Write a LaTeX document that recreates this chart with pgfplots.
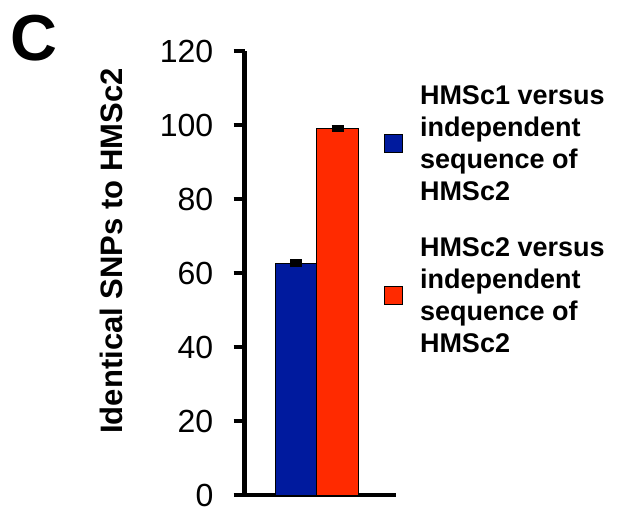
\documentclass[border=0pt]{standalone}
\usepackage{fontspec}
\setmainfont{Liberation Sans}
\usepackage{pgfplots}
\pgfplotsset{compat=1.18}
\definecolor{barblue}{RGB}{0,26,158}
\definecolor{barred}{RGB}{255,42,0}
\pgfplotsset{sqlegend/.style={legend image code/.code={\draw[##1,line width=0.8pt] (0pt,-9pt) rectangle (18pt,9pt);}}}
\begin{document}
\begin{tikzpicture}
\useasboundingbox (0pt,0pt) rectangle (628pt,-528pt);
\node[anchor=base west, inner sep=0pt, font=\bfseries\fontsize{65}{65}\selectfont] at (10pt,-60pt) {C};
\begin{axis}[
  at={(244.5pt,-495pt)}, anchor=south west,
  scale only axis, width=151.5pt, height=444pt,
  xmin=0, xmax=1, ymin=0, ymax=120,
  axis x line*=bottom, axis y line*=left,
  axis line style={line width=4.5pt, black},
  xtick=\empty,
  ytick={0,20,...,120},
  tick align=outside,
  major tick length=11pt,
  every tick/.style={black, line width=4.5pt},
  yticklabel style={font=\fontsize{32}{32}\selectfont, inner sep=0pt, xshift=-20pt},
  /pgf/number format/assume math mode=true,
  ylabel={Identical SNPs to HMSc2},
  ylabel style={at={(axis description cs:-0.802,0.5495)}, anchor=base, font=\bfseries\fontsize{31}{31}\selectfont},
  ybar, bar width=41.5pt,
  legend cell align=left,
  legend style={at={(axis description cs:0.9208,0.9234)}, anchor=north west, draw=none, fill=none, inner sep=0pt, row sep=36pt, column sep=17pt, nodes={inner sep=0pt, align=left, font=\bfseries\fontsize{27}{32}\selectfont}},
  clip=false,
]
\addplot[bar shift=0pt, fill=barblue, draw=black, line width=0.8pt, sqlegend,
  error bars/.cd, y dir=both, y explicit, error mark=|, error bar style={line width=1pt, black}, error mark options={line width=5pt, black, mark size=6pt}]
  coordinates {(0.34,62.7) +- (0,0.3)};
\addlegendentry{HMSc1 versus\\independent\\sequence of\\HMSc2}
\addplot[bar shift=0pt, fill=barred, draw=black, line width=0.8pt, sqlegend,
  error bars/.cd, y dir=both, y explicit, error mark=|, error bar style={line width=1pt, black}, error mark options={line width=5pt, black, mark size=6pt}]
  coordinates {(0.614,99.1) +- (0,0.3)};
\addlegendentry{HMSc2 versus\\independent\\sequence of\\HMSc2}
\end{axis}
\end{tikzpicture}
\end{document}
